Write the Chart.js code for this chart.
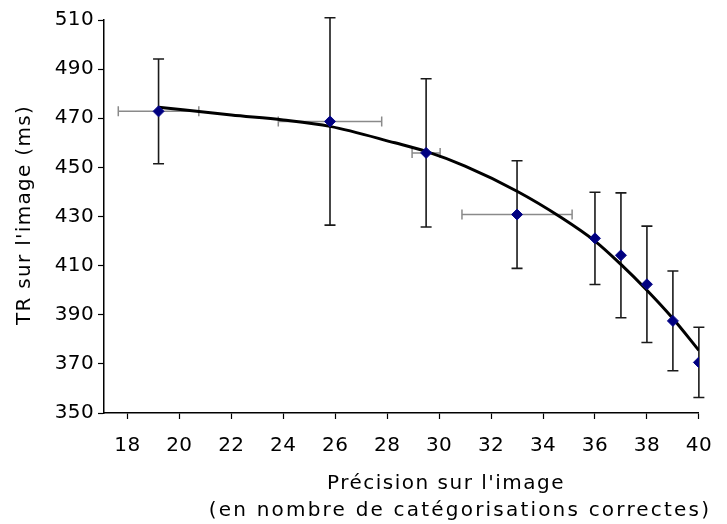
<!DOCTYPE html>
<html>
<head>
<meta charset="utf-8">
<script src="https://cdn.jsdelivr.net/npm/chart.js@4/dist/chart.umd.min.js"></script>
<style>
  html, body { margin: 0; padding: 0; background: #fff; }
  #wrap { width: 727px; height: 524px; position: relative; }
</style>
</head>
<body>
<div id="wrap"><canvas id="c"></canvas></div>
<script>
// ---- data ----
const accuracy   = [19.2, 25.8, 29.5, 33.0, 36.0, 37.0, 38.0, 39.0, 40.0];   // x (mean)
const accuracyErr= [1.55, 1.99, 0.54, 2.12, 0, 0, 0, 0, 0];                 // horizontal error
const rt         = [472.8, 468.7, 455.9, 430.8, 421.1, 414.2, 402.4, 387.5, 370.6]; // y (mean)
const rtErr      = [21.3, 42.2, 30.2, 21.9, 18.8, 25.4, 23.7, 20.3, 14.3];  // vertical error
const trendX     = [19.2, 22, 24, 25.8, 28.3, 29.5, 31, 33, 34.7, 36, 37, 38, 39, 40];
const trendY     = [474.5, 471.3, 469.3, 466.7, 460, 456.5, 450.5, 440.3, 429.6, 420, 410.5, 400, 388.5, 375.5];
const xTicks     = [18, 20, 22, 24, 26, 28, 30, 32, 34, 36, 38, 40];
const yTicks     = [350, 370, 390, 410, 430, 450, 470, 490, 510];
const xTitle     = "Précision sur l'image";
const xSubtitle  = "(en nombre de catégorisations correctes)";
const yTitle     = "TR sur l'image (ms)";

const FONT = '"DejaVu Sans", Verdana, sans-serif';
const TICK_SPACING = '0.4px';

const pointsData = accuracy.map((x, i) => ({ x: x, y: rt[i] }));
const trendData  = trendX.map((x, i) => ({ x: x, y: trendY[i] }));

const spacingPlugin = {
  id: 'spacing',
  beforeLayout(chart) { chart.ctx.letterSpacing = TICK_SPACING; },
  beforeDraw(chart) { chart.ctx.letterSpacing = TICK_SPACING; }
};

const errorBars = {
  id: 'errorBars',
  beforeDatasetsDraw(chart) {
    const ctx = chart.ctx, xs = chart.scales.x, ys = chart.scales.y;
    ctx.save();
    // horizontal (gray)
    ctx.strokeStyle = '#8a8a8a';
    ctx.lineWidth = 1.5;
    accuracy.forEach((x, i) => {
      const e = accuracyErr[i];
      if (!e) return;
      const py = ys.getPixelForValue(rt[i]);
      const x1 = xs.getPixelForValue(x - e), x2 = xs.getPixelForValue(x + e);
      ctx.beginPath();
      ctx.moveTo(x1, py); ctx.lineTo(x2, py);
      ctx.moveTo(x1, py - 5); ctx.lineTo(x1, py + 5);
      ctx.moveTo(x2, py - 5); ctx.lineTo(x2, py + 5);
      ctx.stroke();
    });
    // vertical (black)
    ctx.strokeStyle = '#1a1a1a';
    ctx.lineWidth = 1.6;
    accuracy.forEach((x, i) => {
      const px = xs.getPixelForValue(x);
      const y1 = ys.getPixelForValue(rt[i] + rtErr[i]), y2 = ys.getPixelForValue(rt[i] - rtErr[i]);
      ctx.beginPath();
      ctx.moveTo(px, y1); ctx.lineTo(px, y2);
      ctx.moveTo(px - 5.5, y1); ctx.lineTo(px + 5.5, y1);
      ctx.moveTo(px - 5.5, y2); ctx.lineTo(px + 5.5, y2);
      ctx.stroke();
    });
    ctx.restore();
  }
};

const titles = {
  id: 'titles',
  afterDraw(chart) {
    const ctx = chart.ctx;
    ctx.save();
    ctx.fillStyle = '#000';
    ctx.font = '20px ' + FONT;
    ctx.textAlign = 'center';
    ctx.textBaseline = 'middle';
    ctx.letterSpacing = '1.5px';
    ctx.fillText(xTitle, 446, 484);
    ctx.letterSpacing = '2.2px';
    ctx.fillText(xSubtitle, 460, 511);
    ctx.letterSpacing = '1.3px';
    ctx.translate(25, 215);
    ctx.rotate(-Math.PI / 2);
    ctx.fillText(yTitle, 0, 0);
    ctx.restore();
  }
};

new Chart(document.getElementById('c'), {
  type: 'scatter',
  data: {
    datasets: [
      {
        label: 'moyennes',
        data: pointsData,
        pointStyle: 'rectRot',
        pointRadius: 5.5,
        pointHoverRadius: 5.5,
        backgroundColor: '#000080',
        borderColor: '#0a0a8c',
        borderWidth: 1,
        showLine: false,
        order: 0
      },
      {
        label: 'tendance',
        data: trendData,
        showLine: true,
        borderColor: '#000',
        borderWidth: 3,
        pointRadius: 0,
        cubicInterpolationMode: 'monotone',
        fill: false,
        order: 1
      }
    ]
  },
  plugins: [spacingPlugin, errorBars, titles],
  options: {
    responsive: true,
    maintainAspectRatio: false,
    animation: false,
    events: [],
    layout: { padding: { top: 20, right: 17, bottom: 0, left: 0 } },
    plugins: { legend: { display: false }, tooltip: { enabled: false } },
    scales: {
      x: {
        type: 'linear',
        min: 17.1,
        max: 40,
        afterBuildTicks(s) { s.ticks = xTicks.map(v => ({ value: v })); },
        afterFit(s) { s.height = 111; },
        grid: { drawOnChartArea: false, drawTicks: true, tickLength: 6, color: '#000', tickWidth: 1.2 },
        border: { display: true, color: '#000', width: 1.5 },
        ticks: { autoSkip: false, maxRotation: 0, color: '#000', padding: 15, font: { family: FONT, size: 20 } }
      },
      y: {
        min: 350,
        max: 510,
        afterBuildTicks(s) { s.ticks = yTicks.map(v => ({ value: v })); },
        afterFit(s) { s.width = 104; },
        grid: { drawOnChartArea: false, drawTicks: true, tickLength: 6, color: '#000', tickWidth: 1.2 },
        border: { display: true, color: '#000', width: 1.5 },
        ticks: { color: '#000', padding: 4, font: { family: FONT, size: 20 } }
      }
    }
  }
});
</script>
</body>
</html>
